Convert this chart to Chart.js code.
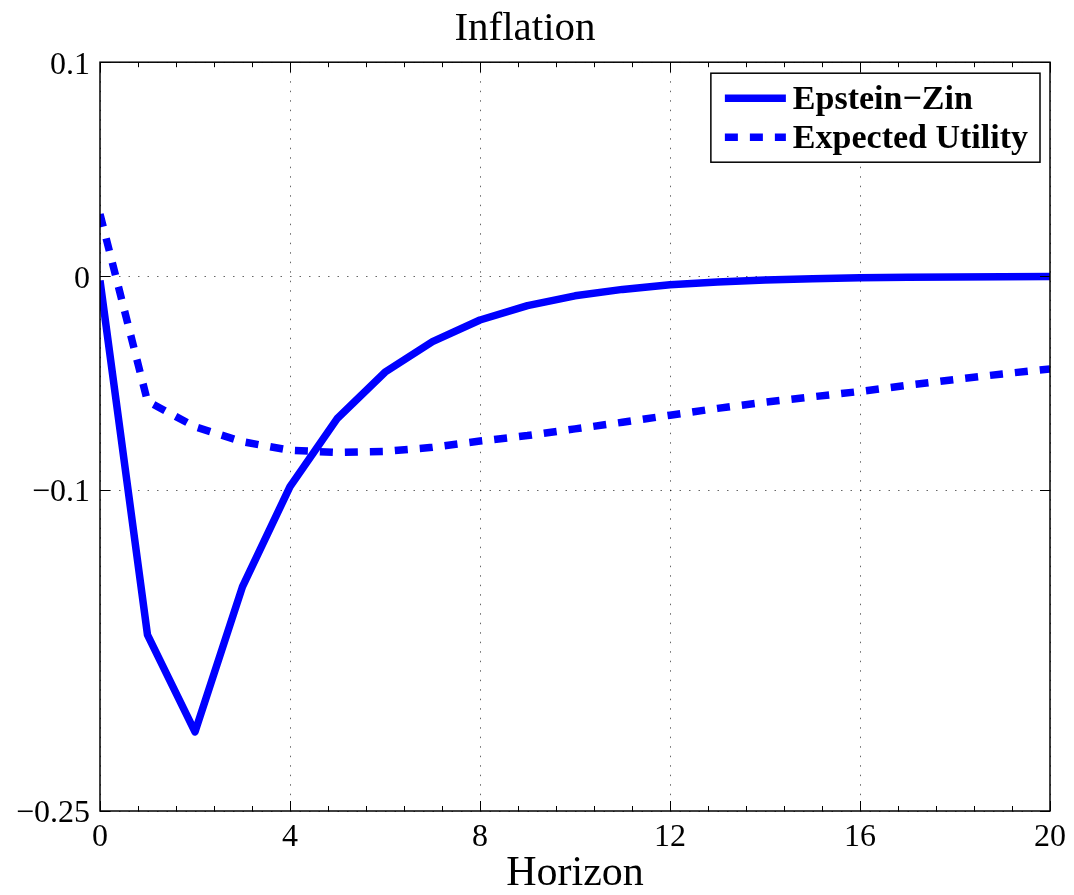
<!DOCTYPE html>
<html>
<head>
<meta charset="utf-8">
<script src="https://cdn.jsdelivr.net/npm/chart.js@4"></script>
<style>
html, body { margin: 0; padding: 0; background: #fff; }
</style>
</head>
<body>
<canvas id="myChart" width="1074" height="895"></canvas>
<script>
// data
var horizon = [0, 1, 2, 3, 4, 5, 6, 7, 8, 9, 10, 11, 12, 13, 14, 15, 16, 17, 18, 19, 20];
var epsteinZin = [-0.002, -0.1677, -0.2130, -0.1451, -0.0984, -0.0664, -0.0449, -0.0306, -0.0205, -0.0138,
                  -0.0092, -0.0062, -0.0040, -0.0027, -0.0018, -0.0012, -0.0008, -0.0005, -0.0004, -0.0003, -0.0002];
var expectedUtility = [0.029, -0.0585, -0.0704, -0.0774, -0.0814, -0.0824, -0.0819, -0.0800, -0.0771, -0.0745,
                       -0.0714, -0.0683, -0.0650, -0.0618, -0.0589, -0.0564, -0.0539, -0.0510, -0.0483, -0.0457, -0.0434];
var xTicks = [0, 4, 8, 12, 16, 20];
var yTicks = [-0.25, -0.1, 0, 0.1];
var xMinorStep = 0.8;

var serif = "'Liberation Serif', 'Times New Roman', serif";

function toPoints(values) {
    var pts = [];
    for (var i = 0; i < horizon.length; i++) {
        pts.push({x: horizon[i], y: values[i]});
    }
    return pts;
}

function fmt(v) {
    return v < 0 ? '\u2212' + String(Math.abs(v)) : String(v);
}

// MATLAB style box, inward ticks and framed legend
var axesBox = {
    id: 'axesBox',
    afterDraw: function(chart) {
        var ctx = chart.ctx;
        var a = chart.chartArea;
        var xs = chart.scales.x;
        var ys = chart.scales.y;
        ctx.save();
        ctx.strokeStyle = '#000';
        ctx.lineWidth = 1;
        ctx.beginPath();
        var n = Math.round((xs.max - xs.min) / xMinorStep);
        for (var i = 0; i <= n; i++) {
            var v = xs.min + i * xMinorStep;
            var major = xTicks.some(function(t) { return Math.abs(t - v) < 1e-6; });
            var len = major ? 10 : 5;
            var px = Math.round(xs.getPixelForValue(v)) + 0.5;
            ctx.moveTo(px, a.bottom); ctx.lineTo(px, a.bottom - len);
            ctx.moveTo(px, a.top); ctx.lineTo(px, a.top + len);
        }
        yTicks.forEach(function(v) {
            var py = Math.round(ys.getPixelForValue(v)) + 0.5;
            ctx.moveTo(a.left, py); ctx.lineTo(a.left + 10, py);
            ctx.moveTo(a.right, py); ctx.lineTo(a.right - 10, py);
        });
        ctx.stroke();
        ctx.lineWidth = 1.5;
        ctx.strokeRect(a.left, a.top, a.right - a.left, a.bottom - a.top);

        // legend
        ctx.font = 'bold 34px ' + serif;
        var ds = chart.data.datasets;
        var textW = 0;
        ds.forEach(function(d) { textW = Math.max(textW, ctx.measureText(d.label).width); });
        var boxW = 82 + textW + 12;
        var boxH = 89;
        var right = a.right - 10;
        var left = right - boxW;
        var top = a.top + 11;
        ctx.fillStyle = '#fff';
        ctx.fillRect(left, top, boxW, boxH);
        ctx.lineWidth = 1.5;
        ctx.strokeStyle = '#000';
        ctx.strokeRect(left, top, boxW, boxH);
        ds.forEach(function(d, k) {
            var y = top + 25 + k * 39;
            ctx.beginPath();
            ctx.strokeStyle = d.borderColor;
            ctx.lineWidth = d.borderWidth;
            ctx.setLineDash(d.borderDash || []);
            ctx.moveTo(left + 14, y);
            ctx.lineTo(left + 75, y);
            ctx.stroke();
            ctx.setLineDash([]);
            ctx.fillStyle = '#000';
            ctx.textBaseline = 'middle';
            ctx.textAlign = 'left';
            ctx.fillText(d.label, left + 82, y + 2);
        });
        ctx.restore();
    }
};

var ctx = document.getElementById('myChart').getContext('2d');
var myChart = new Chart(ctx, {
    type: 'line',
    data: {
        datasets: [{
            label: 'Epstein\u2212Zin',
            data: toPoints(epsteinZin),
            borderColor: '#0000ff',
            borderWidth: 7.5,
            borderJoinStyle: 'round',
            pointRadius: 0,
            fill: false,
            clip: 0
        }, {
            label: 'Expected Utility',
            data: toPoints(expectedUtility),
            borderColor: '#0000ff',
            borderWidth: 7.5,
            borderDash: [13, 12],
            borderCapStyle: 'butt',
            pointRadius: 0,
            fill: false,
            clip: 0
        }]
    },
    options: {
        responsive: false,
        animation: false,
        devicePixelRatio: 1,
        layout: { padding: { left: 0, right: 24, top: 0, bottom: 0 } },
        plugins: {
            legend: { display: false },
            tooltip: { enabled: false },
            title: {
                display: true,
                text: 'Inflation',
                color: '#000',
                font: { family: serif, size: 41, weight: 'normal', lineHeight: 1.2 },
                padding: { top: 5, bottom: 8 }
            }
        },
        scales: {
            x: {
                type: 'linear',
                min: 0,
                max: 20,
                afterBuildTicks: function(scale) {
                    scale.ticks = xTicks.map(function(v) { return {value: v}; });
                },
                afterFit: function(scale) { scale.height = 84; },
                ticks: {
                    color: '#000',
                    padding: 7,
                    maxRotation: 0,
                    font: { family: serif, size: 32 },
                    callback: function(v) { return fmt(v); }
                },
                grid: { color: 'rgba(0,0,0,0.6)', lineWidth: 1, drawTicks: false },
                border: { display: false, dash: [1.5, 8] },
                title: {
                    display: true,
                    text: 'Horizon',
                    color: '#000',
                    font: { family: serif, size: 42, lineHeight: 1 },
                    padding: { top: 0, bottom: 0 }
                }
            },
            y: {
                min: -0.25,
                max: 0.1,
                afterBuildTicks: function(scale) {
                    scale.ticks = yTicks.map(function(v) { return {value: v}; });
                },
                afterFit: function(scale) { scale.width = 100; },
                ticks: {
                    color: '#000',
                    padding: 10,
                    labelOffset: 3,
                    font: { family: serif, size: 32 },
                    callback: function(v) { return fmt(v); }
                },
                grid: { color: 'rgba(0,0,0,0.6)', lineWidth: 1, drawTicks: false },
                border: { display: false, dash: [1.5, 8] }
            }
        }
    },
    plugins: [axesBox]
});
</script>
</body>
</html>
